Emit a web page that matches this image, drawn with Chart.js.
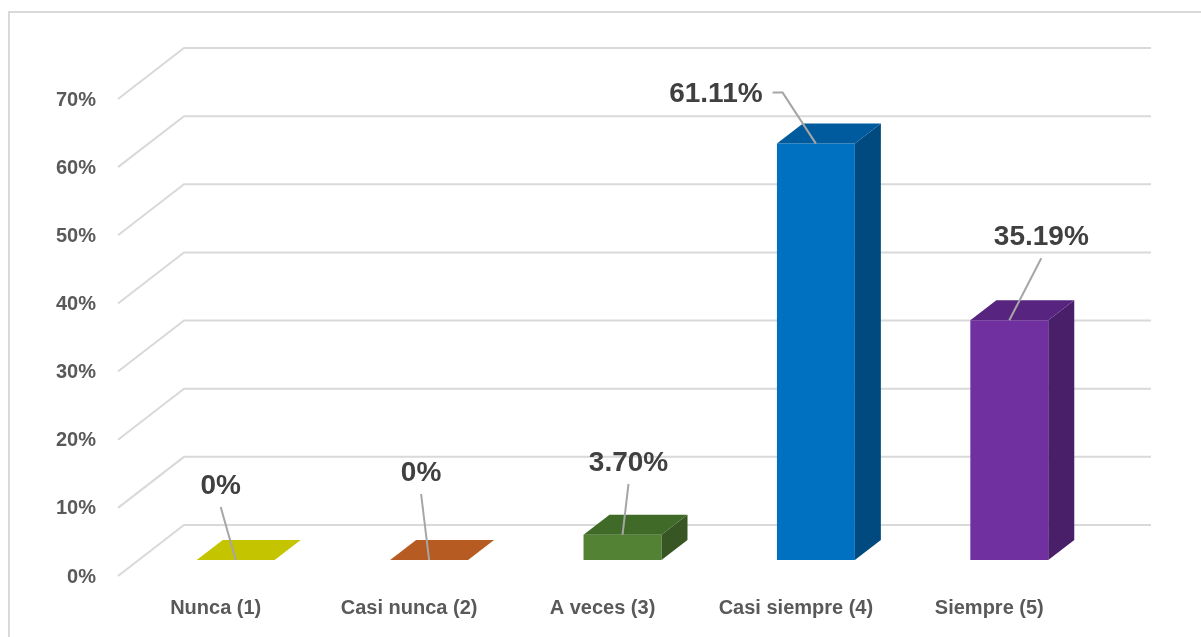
<!DOCTYPE html>
<html><head><meta charset="utf-8">
<script src="https://cdn.jsdelivr.net/npm/chart.js@4.4.0/dist/chart.umd.min.js"></script>
<style>html,body{margin:0;padding:0;background:#fff;overflow:hidden}canvas{display:block}</style>
</head><body>
<canvas id="c" width="1201" height="637"></canvas>
<script>
// ---- data ----
const categories = ['Nunca (1)', 'Casi nunca (2)', 'A veces (3)', 'Casi siempre (4)', 'Siempre (5)'];
const values = [0, 0, 3.70, 61.11, 35.19];
const valueLabels = ['0%', '0%', '3.70%', '61.11%', '35.19%'];
const yTicks = [0, 10, 20, 30, 40, 50, 60, 70];

// ---- styles ----
const frontColors = ['#C4C400', '#B65B22', '#548235', '#0070C0', '#7030A0'];
const topColors   = ['#C4C400', '#B65B22', '#3F6A28', '#005A9E', '#57257F'];
const sideColors  = ['#9A9A00', '#8C461A', '#375623', '#004A80', '#4A1F6A'];
const WALL = {fx: -21, fy: 16, bx: 45, by: -35};
const BAR3D = {dx: 26, dy: -20};
const labelLayout = [
  {dx: -15, dy: -74}, {dx: -8, dy: -87}, {dx: 6, dy: -72},
  {dx: -100, dy: -49, elbow: true}, {dx: 32, dy: -83}
];
const FONT = '"Liberation Sans", Arial, sans-serif';

const plugin3d = {
  id: 'plugin3d',
  beforeDraw(chart) {
    const ctx = chart.ctx;
    ctx.save();
    ctx.fillStyle = '#fff';
    ctx.fillRect(0, 0, chart.width, chart.height);
    ctx.strokeStyle = '#d9d9d9';
    ctx.lineWidth = 2;
    ctx.strokeRect(9, 12, 1400, 800);
    ctx.restore();
  },
  beforeDatasetsDraw(chart) {
    const {ctx, chartArea: a, scales: {y}} = chart;
    ctx.save();
    ctx.strokeStyle = '#d9d9d9';
    ctx.lineWidth = 2;
    yTicks.forEach(t => {
      const py = y.getPixelForValue(t);
      ctx.beginPath();
      ctx.moveTo(a.left + WALL.fx, py + WALL.fy);
      ctx.lineTo(a.left + WALL.bx, py + WALL.by);
      ctx.lineTo(a.right + WALL.bx, py + WALL.by);
      ctx.stroke();
    });
    ctx.restore();
  },
  afterDatasetsDraw(chart) {
    const ctx = chart.ctx;
    const meta = chart.getDatasetMeta(0);
    ctx.save();
    meta.data.forEach((el, i) => {
      const p = el.getProps(['x', 'y', 'base', 'width'], true);
      const x0 = p.x - p.width / 2, x1 = p.x + p.width / 2;
      const top = Math.min(p.y, p.base), bot = Math.max(p.y, p.base);
      const {dx, dy} = BAR3D;
      // side face
      if (bot - top > 0.5) {
        ctx.fillStyle = sideColors[i];
        ctx.beginPath();
        ctx.moveTo(x1, top); ctx.lineTo(x1 + dx, top + dy);
        ctx.lineTo(x1 + dx, bot + dy); ctx.lineTo(x1, bot);
        ctx.closePath(); ctx.fill();
      }
      // top face
      ctx.fillStyle = topColors[i];
      ctx.beginPath();
      ctx.moveTo(x0, top); ctx.lineTo(x0 + dx, top + dy);
      ctx.lineTo(x1 + dx, top + dy); ctx.lineTo(x1, top);
      ctx.closePath(); ctx.fill();
    });
    // data labels with leader lines
    ctx.font = 'bold 28px ' + FONT;
    ctx.textAlign = 'center';
    ctx.textBaseline = 'middle';
    meta.data.forEach((el, i) => {
      const p = el.getProps(['x', 'y'], true);
      const L = labelLayout[i];
      const cx = p.x + L.dx, cy = p.y + L.dy;
      ctx.strokeStyle = '#a6a6a6';
      ctx.lineWidth = 2;
      ctx.beginPath();
      if (L.elbow) {
        const w = ctx.measureText(valueLabels[i]).width;
        const sx = cx + w / 2 + 10;
        ctx.moveTo(sx, cy - 2);
        ctx.lineTo(sx + 10, cy - 2);
      } else {
        ctx.moveTo(cx, cy + 21);
      }
      ctx.lineTo(p.x, p.y);
      ctx.stroke();
      ctx.fillStyle = '#404040';
      ctx.fillText(valueLabels[i], cx, cy);
    });
    ctx.restore();
  }
};

new Chart(document.getElementById('c'), {
  type: 'bar',
  data: {
    labels: categories,
    datasets: [{
      data: values,
      backgroundColor: frontColors,
      borderWidth: 0,
      categoryPercentage: 1,
      barPercentage: 0.403
    }]
  },
  options: {
    responsive: false,
    animation: false,
    events: [],
    layout: {padding: {left: 0, right: 95, top: 83, bottom: 0}},
    plugins: {legend: {display: false}, tooltip: {enabled: false}, title: {display: false}},
    scales: {
      x: {
        grid: {display: false, drawTicks: false},
        border: {display: false},
        afterFit(s) { s.height = 77; },
        ticks: {
          padding: 36, labelOffset: -20, maxRotation: 0, autoSkip: false,
          color: '#595959', font: {family: FONT, size: 20, weight: 'bold'}
        }
      },
      y: {
        min: 0, max: 70,
        grid: {display: false, drawTicks: false},
        border: {display: false},
        afterFit(s) { s.width = 139; },
        afterBuildTicks(s) { s.ticks = yTicks.map(v => ({value: v})); },
        ticks: {
          padding: 43, labelOffset: 17,
          callback: v => v + '%',
          color: '#595959', font: {family: FONT, size: 20, weight: 'bold'}
        }
      }
    }
  },
  plugins: [plugin3d]
});
</script>
</body></html>
